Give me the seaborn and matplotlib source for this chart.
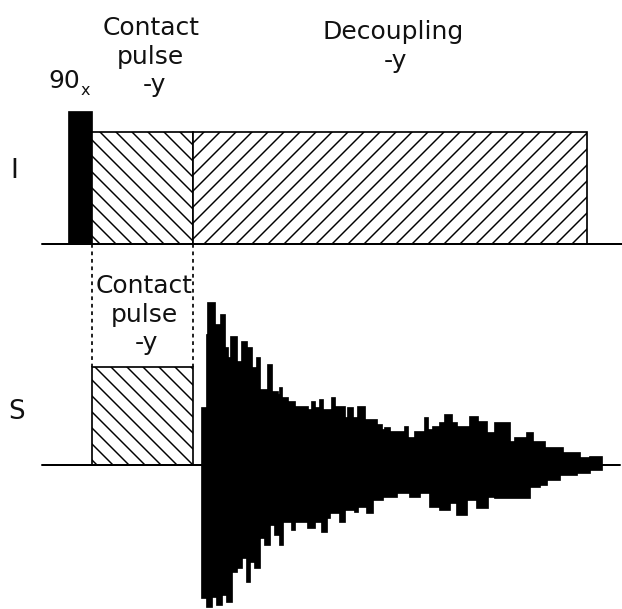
import numpy as np
import pandas as pd
import matplotlib
matplotlib.use("Agg")
import matplotlib.pyplot as plt
from matplotlib.patches import Rectangle
import seaborn as sns

# ---- data (diagram units = pixels, y measured downward) ----
# I channel pulses
i_pulse_names = ["90x", "contact", "decoupling"]
i_pulse_x0 = [69, 92, 193]
i_pulse_x1 = [92, 193, 587]
i_pulse_top = [112, 132, 132]
i_hatch = ["", "\\\\", "//"]
i_baseline = 244

# S channel pulse
s_pulse_x0 = [92]
s_pulse_x1 = [193]
s_pulse_top = [367]
s_baseline = 465

# FID upper envelope: segment edges and amplitudes above baseline
fid_up_t = [202, 207, 208, 215, 221, 225, 228, 231, 237, 242, 247, 252, 257, 260,
            268, 272, 278, 280, 282, 288, 295, 308, 312, 315, 320, 323, 332, 335,
            345, 348, 353, 358, 365, 377, 382, 385, 390, 405, 408, 415, 425, 428,
            433, 440, 445, 452, 457, 470, 478, 487, 495, 510, 515, 527, 533, 545,
            563, 580, 590, 602]
fid_up_a = [57, 130, 162, 140, 150, 117, 107, 128, 103, 123, 117, 97, 107, 75,
            100, 73, 70, 77, 67, 63, 58, 55, 63, 57, 65, 55, 67, 58,
            47, 57, 47, 58, 45, 40, 35, 37, 33, 38, 27, 33, 47, 35,
            38, 42, 50, 42, 38, 48, 43, 32, 42, 23, 27, 32, 23, 17,
            12, 7, 8]
# FID lower envelope: segment edges and amplitudes below baseline
fid_low_t = [202, 207, 212, 217, 222, 227, 232, 237, 242, 247, 250, 255, 260, 265,
             270, 275, 280, 283, 292, 295, 308, 315, 322, 327, 330, 340, 345, 355,
             358, 367, 373, 383, 397, 410, 420, 430, 440, 450, 457, 467, 477, 488,
             495, 510, 530, 540, 547, 560, 577, 590, 602]
fid_low_a = [133, 142, 132, 140, 130, 137, 107, 103, 93, 117, 97, 103, 73, 80,
             60, 70, 80, 57, 65, 57, 63, 57, 67, 53, 48, 57, 45, 47,
             42, 48, 35, 32, 28, 32, 28, 42, 45, 38, 50, 35, 43, 32,
             33, 33, 22, 20, 15, 10, 8, 5]

W, H, DPI = 622, 609, 96
sns.set_style("white")
plt.rcParams["font.family"] = ["DejaVu Sans"]
plt.rcParams["hatch.linewidth"] = 1.1

fig = plt.figure(figsize=(W / DPI, H / DPI), dpi=DPI)
ax = fig.add_axes([0, 0, 1, 1])


def px(v):
    return v * 72 / DPI


lw = px(1.7)

# FID: filled stairs above and below the baseline
up_y = [s_baseline - a for a in fid_up_a]
low_y = [s_baseline + a for a in fid_low_a]
ax.stairs(up_y, fid_up_t, baseline=s_baseline, fill=True, color="black", lw=0)
ax.stairs(low_y, fid_low_t, baseline=s_baseline, fill=True, color="black", lw=0)
ax.stairs(up_y, fid_up_t, baseline=s_baseline, fill=False, color="black", lw=lw)
ax.stairs(low_y, fid_low_t, baseline=s_baseline, fill=False, color="black", lw=lw)

# baselines via seaborn
base = pd.DataFrame({"x": [42, 622, 42, 620],
                     "y": [i_baseline, i_baseline, s_baseline, s_baseline],
                     "ch": ["I", "I", "S", "S"]})
for ch, g in base.groupby("ch"):
    sns.lineplot(data=g, x="x", y="y", color="black", lw=px(2), ax=ax, sort=False)

ax.set_xlim(0, W)
ax.set_ylim(H, 0)
ax.axis("off")

# I pulses
for x0, x1, top, h in zip(i_pulse_x0, i_pulse_x1, i_pulse_top, i_hatch):
    if h == "":
        ax.add_patch(Rectangle((x0, top), x1 - x0, i_baseline - top,
                               facecolor="black", edgecolor="black", lw=lw))
    else:
        ax.add_patch(Rectangle((x0, top), x1 - x0, i_baseline - top,
                               facecolor="white", edgecolor="black", hatch=h, lw=lw))

# S pulse
for x0, x1, top in zip(s_pulse_x0, s_pulse_x1, s_pulse_top):
    ax.add_patch(Rectangle((x0, top), x1 - x0, s_baseline - top,
                           facecolor="white", edgecolor="black", hatch="\\\\", lw=lw))

# dashed guide lines
for xv in [i_pulse_x1[0], i_pulse_x1[1]]:
    ax.plot([xv, xv], [i_baseline, s_pulse_top[0]], color="black", lw=lw,
            ls=(0, (2.2, 2.2)))

fs = px(25)
txt = dict(ha="center", va="baseline", fontsize=fs, color="#111111")
ax.text(151, 35, "Contact", **txt)
ax.text(150, 64, "pulse", **txt)
ax.text(154, 92, "-y", **txt)
ax.text(393, 39, "Decoupling", **txt)
ax.text(395, 68, "-y", **txt)
ax.text(64, 88, "90", **txt)
ax.text(85, 95, "x", ha="center", va="baseline", fontsize=px(16), color="#111111")
ax.text(14, 171, "I", ha="center", va="center", fontsize=px(27), color="#111111")
ax.text(17, 412, "S", ha="center", va="center", fontsize=px(26), color="#111111")
ax.text(144, 293, "Contact", **txt)
ax.text(144, 322, "pulse", **txt)
ax.text(146, 350, "-y", **txt)

fig.savefig("out.png", dpi=DPI)
